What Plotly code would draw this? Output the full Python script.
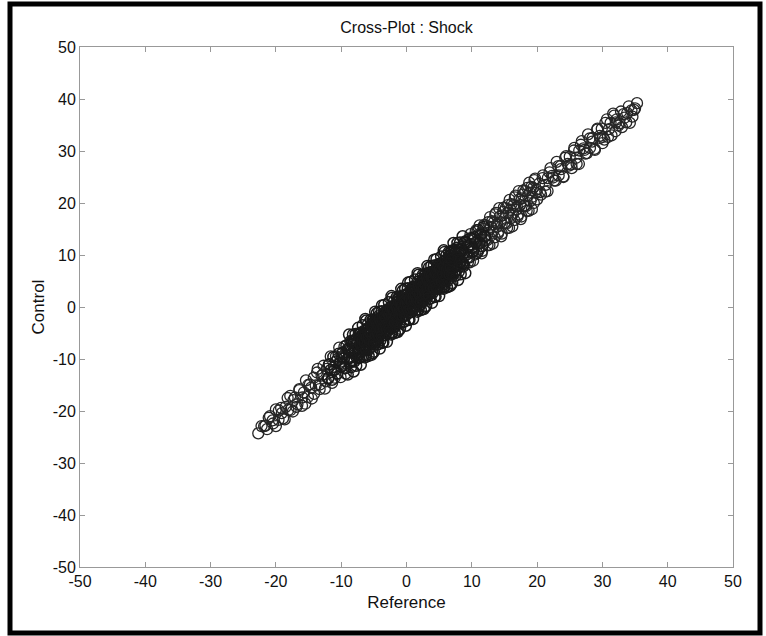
import plotly.graph_objects as go

# ---- lower tail (Reference, Control) ----
ref_lower = [-22.7, -22.2, -21.6, -21.1, -20.5, -20.0, -19.6, -19.2, -18.9, -18.5, -18.1, -17.8,
             -17.4, -17.1, -16.7, -16.4, -16.0, -15.7, -15.4, -15.1, -14.8, -14.5, -14.2, -13.9,
             -13.6, -13.3, -13.0, -12.7, -12.5, -12.2, -11.9, -11.6, -11.4, -11.1, -10.8, -10.6,
             -10.3, -10.1, -9.9, -9.7, -9.5, -9.3, -9.1,
             -21.8, -21.35, -20.9, -20.45, -20.0, -19.55, -19.1, -18.65, -18.2, -17.75,
             -17.3, -16.85, -16.4, -15.95, -15.5, -15.05, -14.6, -14.15, -13.7, -13.25,
             -12.8, -12.35, -11.9, -11.45, -11.0, -10.55, -10.1, -9.65]
ctl_lower = [-24.3, -22.9, -22.8, -21.3, -21.8, -19.7, -21.7, -19.4, -21.4, -19.2, -19.8, -17.1,
             -20.1, -17.4, -18.7, -15.8, -19.0, -16.4, -14.1, -17.3, -14.9, -17.6, -13.6, -15.1,
             -11.9, -15.8, -13.2, -11.3, -15.7, -11.9, -13.6, -9.5, -14.6, -11.5, -9.5, -12.8,
             -7.8, -13.5, -9.6, -11.1, -7.6, -12.8, -8.2,
             -22.9, -23.5, -21.0, -22.4, -22.9, -19.9, -20.4, -21.6, -17.5, -19.8,
             -17.9, -19.2, -16.0, -17.4, -18.6, -15.0, -15.5, -16.7, -12.6, -14.9,
             -13.0, -14.3, -11.1, -12.5, -13.6, -10.0, -10.5, -11.7]

# ---- shoulders of the dense region ----
ref_shoulder = [8.2, 8.4, 8.6, 8.8, 9.0, 9.2, 9.4, 9.6, 9.8, 10.0,
                10.2, 10.4, 10.6, 10.8, 11.0, 11.2, 11.4, 11.6, 11.8, 12.0,
                -12.0, -11.8, -11.6, -11.4, -11.2, -11.0, -10.8, -10.6, -10.4, -10.2,
                -10.0, -9.8, -9.6, -9.4, -9.2, -9.0, -8.8, -8.6, -8.4, -8.2]
ctl_shoulder = [8.5, 11.2, 10.2, 8.2, 12.6, 10.1, 11.7, 9.5, 13.2, 11.4,
                10.7, 13.4, 12.4, 10.4, 14.8, 12.3, 13.9, 11.7, 15.4, 13.6,
                -13.7, -11.0, -12.1, -14.0, -9.6, -12.1, -10.5, -12.8, -9.0, -10.8,
                -11.5, -8.8, -9.9, -11.8, -7.4, -9.9, -8.3, -10.6, -6.8, -8.6]

# ---- dense core, first sweep ----
ref_core_a = [-9.0, -8.9, -8.8, -8.7, -8.6, -8.5, -8.4, -8.3, -8.2, -8.1,
              -8.0, -7.9, -7.8, -7.7, -7.6, -7.5, -7.4, -7.3, -7.2, -7.1,
              -7.0, -6.9, -6.8, -6.7, -6.6, -6.5, -6.4, -6.3, -6.2, -6.1,
              -6.0, -5.9, -5.8, -5.7, -5.6, -5.5, -5.4, -5.3, -5.2, -5.1,
              -5.0, -4.9, -4.8, -4.7, -4.6, -4.5, -4.4, -4.3, -4.2, -4.1,
              -4.0, -3.9, -3.8, -3.7, -3.6, -3.5, -3.4, -3.3, -3.2, -3.1,
              -3.0, -2.9, -2.8, -2.7, -2.6, -2.5, -2.4, -2.3, -2.2, -2.1,
              -2.0, -1.9, -1.8, -1.7, -1.6, -1.5, -1.4, -1.3, -1.2, -1.1,
              -1.0, -0.9, -0.8, -0.7, -0.6, -0.5, -0.4, -0.3, -0.2, -0.1,
              0.0, 0.1, 0.2, 0.3, 0.4, 0.5, 0.6, 0.7, 0.8, 0.9,
              1.0, 1.1, 1.2, 1.3, 1.4, 1.5, 1.6, 1.7, 1.8, 1.9,
              2.0, 2.1, 2.2, 2.3, 2.4, 2.5, 2.6, 2.7, 2.8, 2.9,
              3.0, 3.1, 3.2, 3.3, 3.4, 3.5, 3.6, 3.7, 3.8, 3.9,
              4.0, 4.1, 4.2, 4.3, 4.4, 4.5, 4.6, 4.7, 4.8, 4.9,
              5.0, 5.1, 5.2, 5.3, 5.4, 5.5, 5.6, 5.7, 5.8, 5.9,
              6.0, 6.1, 6.2, 6.3, 6.4, 6.5, 6.6, 6.7, 6.8, 6.9,
              7.0, 7.1, 7.2, 7.3, 7.4, 7.5, 7.6, 7.7, 7.8, 7.9,
              8.0, 8.1, 8.2, 8.3, 8.4, 8.5, 8.6, 8.7, 8.8, 8.9, 9.0]
ctl_core_a = [-13.0, -8.1, -5.3, -9.8, -6.6, -11.6, -8.4, -10.5, -5.3, -12.4,
              -6.5, -8.4, -5.2, -11.3, -7.0, -9.2, -4.0, -9.8, -7.3, -5.2,
              -11.1, -5.6, -7.9, -3.5, -9.4, -6.0, -8.2, -2.3, -9.3, -5.2,
              -6.5, -3.3, -9.4, -5.4, -7.8, -2.5, -6.6, -3.4, -8.9, -2.6,
              -8.6, -3.7, -0.9, -5.4, -2.2, -7.2, -4.0, -6.1, -0.9, -8.0,
              -2.1, -4.0, -0.8, -6.9, -2.6, -4.8, 0.4, -5.4, -2.9, -0.8,
              -6.7, -1.2, -3.5, 0.9, -5.0, -1.6, -3.8, 2.1, -4.9, -0.8,
              -2.1, 1.1, -5.0, -1.0, -3.4, 1.9, -2.2, 1.0, -4.5, 1.8,
              -4.2, 0.7, 3.5, -1.0, 2.2, -2.9, 0.4, -1.7, 3.5, -3.6,
              2.3, 0.4, 3.6, -2.5, 1.8, -0.3, 4.8, -1.0, 1.5, 3.6,
              -2.3, 3.2, 0.9, 5.3, -0.6, 2.8, 0.6, 6.5, -0.5, 3.6,
              2.3, 5.5, -0.6, 3.4, 1.0, 6.2, 2.2, 5.4, -0.1, 6.2,
              0.2, 5.1, 7.9, 3.4, 6.6, 1.6, 4.8, 2.7, 7.9, 0.8,
              6.7, 4.8, 8.0, 1.9, 6.2, 4.0, 9.2, 3.4, 5.9, 8.0,
              2.1, 7.6, 5.3, 9.7, 3.8, 7.2, 5.0, 10.9, 3.9, 8.0,
              6.7, 9.9, 3.8, 7.8, 5.4, 10.6, 6.6, 9.8, 4.3, 10.6,
              4.6, 9.5, 12.3, 7.8, 11.0, 6.0, 9.2, 7.1, 12.3, 5.2,
              11.1, 9.2, 12.4, 6.3, 10.6, 8.4, 13.6, 7.8, 10.3, 12.4, 6.5]

# ---- dense core, second sweep ----
ref_core_b = [-6.95, -6.75, -6.55, -6.35, -6.15, -5.95, -5.75, -5.55, -5.35, -5.15,
              -4.95, -4.75, -4.55, -4.35, -4.15, -3.95, -3.75, -3.55, -3.35, -3.15,
              -2.95, -2.75, -2.55, -2.35, -2.15, -1.95, -1.75, -1.55, -1.35, -1.15,
              -0.95, -0.75, -0.55, -0.35, -0.15, 0.05, 0.25, 0.45, 0.65, 0.85,
              1.05, 1.25, 1.45, 1.65, 1.85, 2.05, 2.25, 2.45, 2.65, 2.85,
              3.05, 3.25, 3.45, 3.65, 3.85, 4.05, 4.25, 4.45, 4.65, 4.85,
              5.05, 5.25, 5.45, 5.65, 5.85, 6.05, 6.25, 6.45, 6.65, 6.85, 7.05]
ctl_core_b = [-4.9, -7.9, -6.2, -9.7, -2.6, -6.1, -8.2, -4.2, -9.2, -2.4,
              -4.9, -6.3, -1.2, -7.2, -3.0, -4.4, 0.3, -6.8, -2.5, -5.0,
              -0.5, -3.5, -1.8, -5.3, 1.8, -1.7, -3.8, 0.2, -4.8, 2.0,
              -0.5, -1.9, 3.2, -2.8, 1.4, 0.0, 4.7, -2.4, 1.9, -0.6,
              3.9, 0.9, 2.6, -0.9, 6.2, 2.7, 0.6, 4.6, -0.4, 6.4,
              3.9, 2.5, 7.6, 1.6, 5.8, 4.4, 9.1, 2.0, 6.3, 3.8,
              8.3, 5.3, 7.0, 3.5, 10.6, 7.1, 5.0, 9.0, 4.0, 10.8, 8.3]

# ---- dense core, third sweep (inner part of the band) ----
ref_core_c = [-8.5, -8.4, -8.3, -8.2, -8.1, -8.0, -7.9, -7.8, -7.7, -7.6,
              -7.5, -7.4, -7.3, -7.2, -7.1, -7.0, -6.9, -6.8, -6.7, -6.6,
              -6.5, -6.4, -6.3, -6.2, -6.1, -6.0, -5.9, -5.8, -5.7, -5.6,
              -5.5, -5.4, -5.3, -5.2, -5.1, -5.0, -4.9, -4.8, -4.7, -4.6,
              -4.5, -4.4, -4.3, -4.2, -4.1, -4.0, -3.9, -3.8, -3.7, -3.6,
              -3.5, -3.4, -3.3, -3.2, -3.1, -3.0, -2.9, -2.8, -2.7, -2.6,
              -2.5, -2.4, -2.3, -2.2, -2.1, -2.0, -1.9, -1.8, -1.7, -1.6,
              -1.5, -1.4, -1.3, -1.2, -1.1, -1.0, -0.9, -0.8, -0.7, -0.6,
              -0.5, -0.4, -0.3, -0.2, -0.1, 0.0, 0.1, 0.2, 0.3, 0.4,
              0.5, 0.6, 0.7, 0.8, 0.9, 1.0, 1.1, 1.2, 1.3, 1.4,
              1.5, 1.6, 1.7, 1.8, 1.9, 2.0, 2.1, 2.2, 2.3, 2.4,
              2.5, 2.6, 2.7, 2.8, 2.9, 3.0, 3.1, 3.2, 3.3, 3.4,
              3.5, 3.6, 3.7, 3.8, 3.9, 4.0, 4.1, 4.2, 4.3, 4.4,
              4.5, 4.6, 4.7, 4.8, 4.9, 5.0, 5.1, 5.2, 5.3, 5.4,
              5.5, 5.6, 5.7, 5.8, 5.9, 6.0, 6.1, 6.2, 6.3, 6.4,
              6.5, 6.6, 6.7, 6.8, 6.9, 7.0, 7.1, 7.2, 7.3, 7.4,
              7.5, 7.6, 7.7, 7.8, 7.9, 8.0, 8.1, 8.2, 8.3, 8.4, 8.5]
ctl_core_c = [-8.0, -10.2, -6.5, -8.8, -7.0, -10.5, -8.0, -9.0, -6.2, -9.8,
              -7.2, -8.2, -5.1, -8.6, -6.2, -9.7, -7.1, -5.4, -7.7, -5.9,
              -8.3, -4.5, -6.5, -5.0, -8.2, -5.5, -7.1, -4.0, -6.3, -5.4,
              -4.8, -6.9, -3.2, -5.5, -3.7, -7.2, -4.7, -5.7, -2.9, -6.5,
              -4.0, -4.9, -1.8, -5.3, -2.9, -6.4, -3.8, -2.1, -4.4, -2.6,
              -5.0, -1.2, -3.2, -1.7, -4.9, -2.2, -3.8, -0.7, -3.0, -2.1,
              -1.4, -3.6, 0.1, -2.2, -0.4, -3.9, -1.4, -2.4, 0.4, -3.2,
              -0.6, -1.6, 1.5, -2.0, 0.4, -3.1, -0.5, 1.2, -1.1, 0.7,
              -1.8, 2.1, 0.1, 1.6, -1.6, 1.1, -0.5, 2.6, 0.3, 1.2,
              1.9, -0.3, 3.4, 1.1, 2.9, -0.6, 1.9, 0.9, 3.7, 0.1,
              2.6, 1.7, 4.8, 1.3, 3.7, 0.2, 2.8, 4.5, 2.2, 4.0,
              1.6, 5.4, 3.4, 4.9, 1.7, 4.4, 2.8, 5.9, 3.6, 4.5,
              5.2, 3.0, 6.7, 4.4, 6.2, 2.7, 5.2, 4.2, 7.0, 3.4,
              6.0, 5.0, 8.1, 4.6, 7.0, 3.5, 6.1, 7.8, 5.5, 7.3,
              4.9, 8.7, 6.7, 8.2, 5.0, 7.7, 6.1, 9.2, 6.9, 7.8,
              8.5, 6.3, 10.0, 7.7, 9.5, 6.0, 8.5, 7.5, 10.3, 6.7,
              9.2, 8.3, 11.4, 7.9, 10.3, 6.8, 9.4, 11.1, 8.8, 10.6, 8.2]

# ---- dense core, fourth sweep (centre line of the band) ----
ref_core_d = [-7.0, -6.9, -6.8, -6.7, -6.6, -6.5, -6.4, -6.3, -6.2, -6.1,
              -6.0, -5.9, -5.8, -5.7, -5.6, -5.5, -5.4, -5.3, -5.2, -5.1,
              -5.0, -4.9, -4.8, -4.7, -4.6, -4.5, -4.4, -4.3, -4.2, -4.1,
              -4.0, -3.9, -3.8, -3.7, -3.6, -3.5, -3.4, -3.3, -3.2, -3.1,
              -3.0, -2.9, -2.8, -2.7, -2.6, -2.5, -2.4, -2.3, -2.2, -2.1,
              -2.0, -1.9, -1.8, -1.7, -1.6, -1.5, -1.4, -1.3, -1.2, -1.1,
              -1.0, -0.9, -0.8, -0.7, -0.6, -0.5, -0.4, -0.3, -0.2, -0.1,
              0.0, 0.1, 0.2, 0.3, 0.4, 0.5, 0.6, 0.7, 0.8, 0.9,
              1.0, 1.1, 1.2, 1.3, 1.4, 1.5, 1.6, 1.7, 1.8, 1.9,
              2.0, 2.1, 2.2, 2.3, 2.4, 2.5, 2.6, 2.7, 2.8, 2.9,
              3.0, 3.1, 3.2, 3.3, 3.4, 3.5, 3.6, 3.7, 3.8, 3.9,
              4.0, 4.1, 4.2, 4.3, 4.4, 4.5, 4.6, 4.7, 4.8, 4.9,
              5.0, 5.1, 5.2, 5.3, 5.4, 5.5, 5.6, 5.7, 5.8, 5.9,
              6.0, 6.1, 6.2, 6.3, 6.4, 6.5, 6.6, 6.7, 6.8, 6.9, 7.0]
ctl_core_d = [-7.2, -5.9, -8.0, -6.3, -8.3, -5.0, -6.9, -5.5, -8.2, -5.9,
              -4.2, -6.7, -5.9, -4.6, -6.7, -5.0, -6.9, -3.7, -5.6, -4.2,
              -6.9, -4.6, -2.9, -5.4, -4.6, -3.2, -5.3, -3.6, -5.6, -2.4,
              -4.3, -2.9, -5.6, -3.3, -1.6, -4.0, -3.2, -1.9, -4.0, -2.3,
              -4.3, -1.1, -3.0, -1.6, -4.3, -2.0, -0.2, -2.7, -1.9, -0.6,
              -2.7, -1.0, -3.0, 0.2, -1.7, -0.2, -2.9, -0.6, 1.1, -1.4,
              -0.6, 0.7, -1.4, 0.3, -1.7, 1.6, -0.3, 1.1, -1.6, 0.7,
              2.4, -0.1, 0.7, 2.0, -0.1, 1.6, -0.3, 2.9, 1.0, 2.4,
              -0.3, 2.0, 3.7, 1.2, 2.0, 3.4, 1.3, 3.0, 1.0, 4.2,
              2.3, 3.7, 1.0, 3.3, 5.0, 2.5, 3.4, 4.7, 2.6, 4.3,
              2.3, 5.5, 3.6, 5.0, 2.3, 4.7, 6.4, 3.9, 4.7, 6.0,
              3.9, 5.6, 3.6, 6.8, 4.9, 6.3, 3.7, 6.0, 7.7, 5.2,
              6.0, 7.3, 5.2, 6.9, 4.9, 8.2, 6.3, 7.7, 5.0, 7.3,
              9.0, 6.5, 7.3, 8.6, 6.5, 8.3, 6.3, 9.5, 7.6, 9.0, 6.3]

# ---- upper middle ----
ref_mid = [9.2, 9.4, 9.6, 9.8, 10.0, 10.2, 10.4, 10.6, 10.8, 11.0,
           11.2, 11.4, 11.6, 11.8, 12.0, 12.2, 12.4, 12.6, 12.8, 13.0,
           13.2, 13.4, 13.6, 13.8, 14.0, 14.2, 14.4, 14.6, 14.8, 15.0,
           15.2, 15.4, 15.6, 15.8, 16.0, 16.2, 16.4, 16.6, 16.8, 17.0,
           17.2, 17.4, 17.6, 17.8, 18.0, 18.2, 18.4, 18.6, 18.8, 19.0,
           19.2, 19.4, 19.6, 19.8, 20.0,
           9.3, 9.5, 9.7, 9.9, 10.1, 10.3, 10.5, 10.7, 10.9, 11.1,
           11.3, 11.5, 11.7, 11.9, 12.1, 12.3, 12.5, 12.7, 12.9, 13.1,
           13.3, 13.5, 13.7, 13.9, 14.1, 14.3, 14.5, 14.7, 14.9, 15.1,
           15.3, 15.5, 15.7, 15.9, 16.1, 16.3, 16.5, 16.7, 16.9, 17.1,
           17.3, 17.5, 17.7, 17.9, 18.1, 18.3, 18.5, 18.7, 18.9, 19.1,
           19.3, 19.5, 19.7, 19.9]
ctl_mid = [12.4, 8.6, 11.5, 14.0, 10.5, 8.9, 13.0, 14.5, 12.1, 10.8,
           15.7, 13.0, 10.8, 15.0, 12.9, 15.7, 11.9, 14.8, 17.3, 13.8,
           12.2, 16.3, 17.8, 15.4, 14.1, 19.0, 16.3, 14.1, 18.3, 16.2,
           19.0, 15.2, 18.1, 20.6, 17.1, 15.5, 19.6, 21.1, 18.7, 17.4,
           22.3, 19.6, 17.4, 21.6, 19.5, 22.3, 18.5, 21.4, 23.9, 20.4,
           18.8, 22.9, 24.4, 22.0, 20.7,
           9.5, 13.0, 8.6, 12.1, 13.2, 11.3, 10.1, 14.8, 12.7, 11.2,
           14.1, 10.3, 14.3, 15.8, 12.9, 12.8, 16.3, 11.9, 15.4, 16.5,
           14.6, 13.4, 18.1, 16.0, 14.5, 17.4, 13.6, 17.6, 19.1, 16.2,
           16.1, 19.6, 15.2, 18.7, 19.8, 17.9, 16.7, 21.4, 19.3, 17.8,
           20.7, 16.9, 20.9, 22.4, 19.5, 19.4, 22.9, 18.5, 22.0, 23.1,
           21.2, 20.0, 24.7, 22.6]

# ---- upper tail ----
ref_upper = [20.3, 20.6, 20.9, 21.3, 21.6, 21.9, 22.3, 22.6, 23.0, 23.3,
             23.6, 24.0, 24.3, 24.7, 25.0, 25.3, 25.7, 26.0, 26.4, 26.7,
             27.1, 27.4, 27.8, 28.1, 28.5, 28.8, 29.2, 29.6, 29.9, 30.0,
             30.3, 30.7, 31.0, 31.4, 31.8, 32.0, 32.2, 32.6, 33.0, 33.4,
             33.8, 34.2, 34.6, 35.0, 35.3,
             20.45, 20.85, 21.25, 21.65, 22.05, 22.45, 22.85, 23.25, 23.65, 24.05,
             24.45, 24.85, 25.25, 25.65, 26.05, 26.45, 26.85, 27.25, 27.65, 28.05,
             28.45, 28.85, 29.25, 29.65, 30.05, 30.45, 30.85, 31.25, 31.65, 32.05,
             32.45, 32.85, 33.25, 33.65, 34.05, 34.45, 34.85]
ctl_upper = [23.7, 21.6, 25.3, 23.5, 22.3, 25.9, 25.2, 24.3, 27.9, 25.3,
             27.1, 25.1, 28.7, 27.5, 28.9, 26.7, 30.6, 28.7, 27.5, 31.2,
             30.5, 29.5, 33.2, 30.6, 32.5, 30.4, 34.1, 32.9, 34.3, 31.5,
             32.2, 36.1, 34.2, 33.0, 36.8, 33.8, 36.1, 35.3, 34.6, 36.4,
             37.3, 35.4, 36.6, 38.2, 39.2,
             22.1, 24.8, 22.2, 24.8, 26.7, 24.9, 24.3, 27.1, 26.5, 25.0,
             29.0, 27.2, 27.4, 30.1, 27.5, 30.1, 31.9, 30.2, 29.6, 32.4,
             31.8, 30.2, 34.3, 32.5, 32.7, 35.4, 32.7, 35.4, 37.2, 35.5,
             34.9, 37.6, 37.1, 35.5, 38.6, 37.8, 37.9]

ref_tails = ref_lower + ref_mid + ref_upper
ctl_tails = ctl_lower + ctl_mid + ctl_upper
ref_core = ref_shoulder + ref_core_a + ref_core_b + ref_core_c + ref_core_d
ctl_core = ctl_shoulder + ctl_core_a + ctl_core_b + ctl_core_c + ctl_core_d

tick_vals = [-50, -40, -30, -20, -10, 0, 10, 20, 30, 40, 50]

fig = go.Figure()
fig.add_trace(go.Scatter(
    x=ref_tails, y=ctl_tails, mode="markers", name="tails",
    marker=dict(symbol="circle-open", size=11, color="#262626", line=dict(width=1.3)),
    showlegend=False, hoverinfo="x+y",
))
fig.add_trace(go.Scatter(
    x=ref_core, y=ctl_core, mode="markers", name="core",
    marker=dict(symbol="circle-open", size=11, color="#1a1a1a", line=dict(width=1.5)),
    showlegend=False, hoverinfo="x+y",
))

FONT = "Liberation Sans, Arial, Helvetica, sans-serif"
axis_common = dict(
    range=[-50, 50], tickvals=tick_vals, ticktext=[str(v) for v in tick_vals],
    ticks="inside", ticklen=5, tickwidth=1, tickcolor="#999999",
    showline=True, linecolor="#999999", linewidth=1, mirror="ticks",
    showgrid=False, zeroline=False,
    tickfont=dict(family=FONT, size=16, color="#111111"),
)

fig.update_layout(
    width=766, height=636,
    margin=dict(l=80, r=33, t=47, b=69),
    paper_bgcolor="white", plot_bgcolor="white",
    title=dict(text="Cross-Plot : Shock", x=0.5, xref="paper", xanchor="center",
               y=1 - 27 / 636, yref="container", yanchor="middle",
               font=dict(family=FONT, size=16, color="#111111")),
    xaxis=dict(**axis_common,
               title=dict(text="Reference", standoff=6,
                          font=dict(family=FONT, size=17, color="#111111"))),
    yaxis=dict(**axis_common,
               title=dict(text="Control", standoff=3,
                          font=dict(family=FONT, size=17, color="#111111"))),
    shapes=[dict(type="rect", xref="paper", yref="paper",
                 x0=(10 - 80) / 653, x1=(760 - 80) / 653,
                 y0=(567 - 633) / 520, y1=(567 - 4) / 520,
                 line=dict(color="black", width=5), fillcolor="rgba(0,0,0,0)",
                 layer="above")],
)

fig.write_html("out.html", config={"displayModeBar": False},
               post_script="document.body.style.margin='0';document.body.style.overflow='hidden';")
